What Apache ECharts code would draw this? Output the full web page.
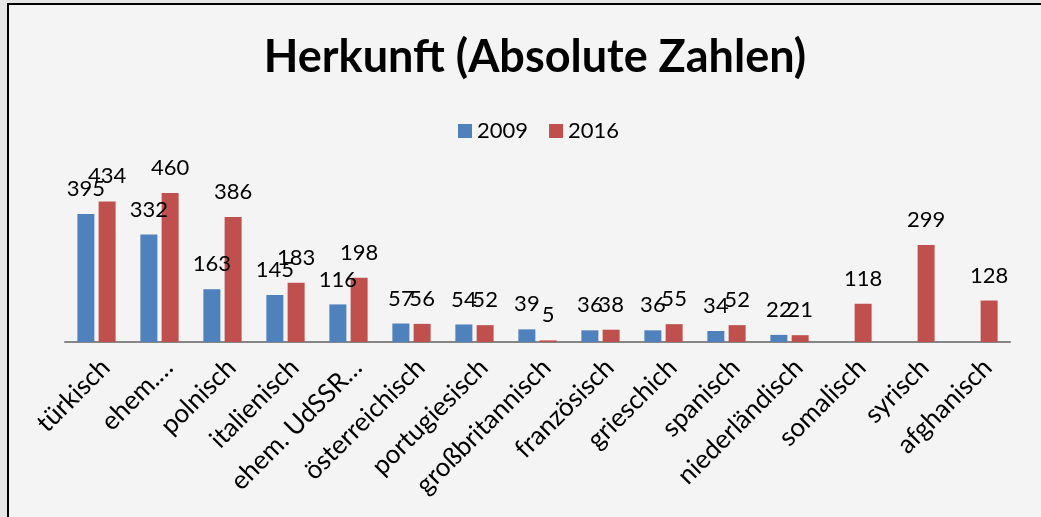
<!DOCTYPE html>
<html>
<head>
<meta charset="utf-8">
<script src="https://cdn.jsdelivr.net/npm/echarts@6/dist/echarts.min.js"></script>
<style>
html,body{margin:0;padding:0;background:#f4f4f4;overflow:hidden;}
#c{width:1041px;height:517px;}
</style>
</head>
<body>
<div id="c"></div>
<script>
const categories = ["türkisch","ehem.…","polnisch","italienisch","ehem. UdSSR…","österreichisch","portugiesisch","großbritannisch","französisch","grieschich","spanisch","niederländisch","somalisch","syrisch","afghanisch"];
const values2009 = [395,332,163,145,116,57,54,39,36,36,34,22,null,null,null];
const values2016 = [434,460,386,183,198,56,52,5,38,55,52,21,118,299,128];
const seriesNames = ["2009","2016"];

const FONT = 'Lato, "Open Sans", sans-serif';
const chart = echarts.init(document.getElementById('c'));
const labelStyle = {show:true, position:'top', distance:14, color:'#000', fontFamily:FONT, fontSize:22,
  formatter: p => (p.value == null ? '' : p.value)};
chart.setOption({
  animation:false,
  backgroundColor:'#f4f4f4',
  graphic:[
    {type:'rect', z:-10, silent:true, shape:{x:0,y:0,width:7,height:517}, style:{fill:'#e6e6e6'}},
    {type:'rect', z:-10, silent:true, shape:{x:0,y:0,width:1041,height:3}, style:{fill:'#e6e6e6'}},
    {type:'rect', z:-9, silent:true, shape:{x:7,y:3,width:2,height:514}, style:{fill:'#000'}},
    {type:'rect', z:60, silent:true, shape:{x:1024,y:5,width:17,height:512}, style:{fill:'#f4f4f4'}},
    {type:'rect', z:61, silent:true, shape:{x:7,y:3,width:1034,height:2}, style:{fill:'#000'}}
  ],
  title:{text:'Herkunft (Absolute Zahlen)', left:530, textAlign:'center', top:30,
    textStyle:{fontFamily:FONT, fontWeight:'bold', fontSize:45, color:'#000'}},
  legend:{left:453, top:115, icon:'rect', itemWidth:14, itemHeight:14, itemGap:21,
    textStyle:{fontFamily:FONT, fontSize:22, color:'#000'}, data:seriesNames},
  grid:{left:65, right:31, top:180, bottom:175, containLabel:false},
  xAxis:{type:'category', data:categories,
    axisLine:{lineStyle:{color:'#868686', width:2}},
    axisTick:{show:false},
    axisLabel:{rotate:45, interval:0, margin:12, align:'right', verticalAlign:'top',
      color:'#000', fontFamily:FONT, fontSize:26}},
  yAxis:{type:'value', min:0, max:500, show:false, splitLine:{show:false}},
  series:[
    {name:seriesNames[0], type:'bar', data:values2009, barWidth:17, barGap:'25%',
      itemStyle:{color:'#4f81bd'}, label:labelStyle},
    {name:seriesNames[1], type:'bar', data:values2016, barWidth:17,
      itemStyle:{color:'#c0504d'}, label:labelStyle}
  ]
});
</script>
</body>
</html>
